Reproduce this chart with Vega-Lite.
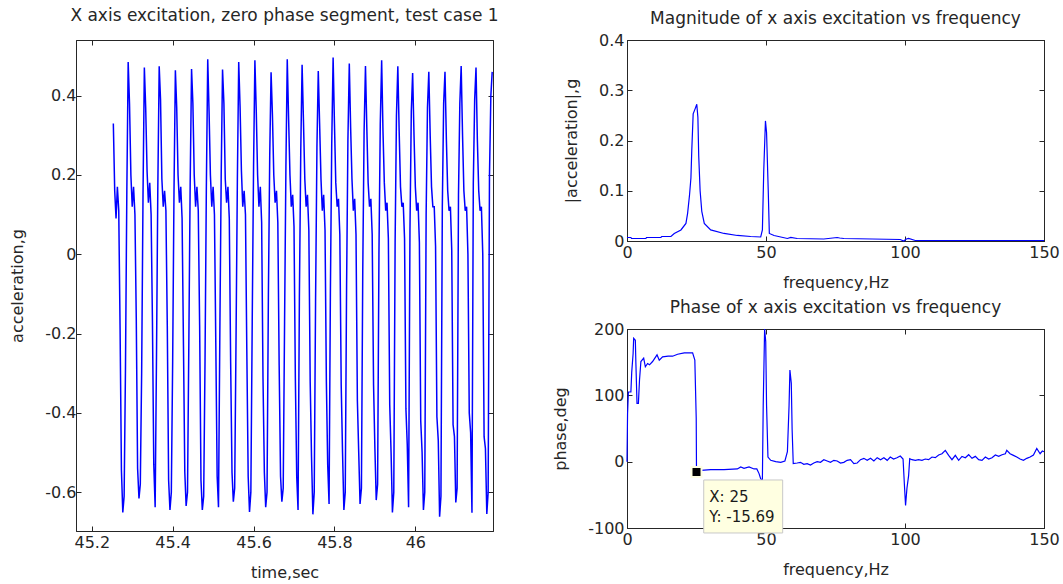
{
"$schema":"https://vega.github.io/schema/vega-lite/v6.json",
"background":"white",
"padding":{"left":9,"top":6,"right":5,"bottom":0},
"bounds":"flush",
"spacing":134,
"config":{
 "view":{"stroke":"#262626","strokeWidth":1},
 "font":"DejaVu Sans",
 "axis":{"domainColor":"#262626","tickColor":"#262626","labelColor":"#262626","titleColor":"#262626","labelFont":"DejaVu Sans","titleFont":"DejaVu Sans","labelFontSize":16,"titleFontSize":16,"titleFontWeight":"normal","grid":false,"tickSize":-5,"labelFlush":false},
 "axisX":{"labelPadding":8,"titlePadding":14},
 "axisY":{"labelPadding":5,"titlePadding":19},
 "title":{"font":"DejaVu Sans","fontSize":17,"fontWeight":"normal","color":"#262626","offset":13}
},
"datasets":{
"sig":[
{"t":45.2533,"a":0.33},{"t":45.2567,"a":0.16},{"t":45.26,"a":0.09},{"t":45.2633,"a":0.17},{"t":45.2667,"a":0.11},{"t":45.27,"a":-0.19},{"t":45.2733,"a":-0.545},{"t":45.2767,"a":-0.651},{"t":45.28,"a":-0.61},{"t":45.2833,"a":-0.29},{"t":45.2867,"a":0.16},{"t":45.29,"a":0.485},
{"t":45.2933,"a":0.38},{"t":45.2967,"a":0.2},{"t":45.3,"a":0.12},{"t":45.3033,"a":0.17},{"t":45.3067,"a":0.1},{"t":45.31,"a":-0.16},{"t":45.3133,"a":-0.54},{"t":45.3167,"a":-0.616},{"t":45.32,"a":-0.58},{"t":45.3233,"a":-0.3},{"t":45.3267,"a":0.15},{"t":45.33,"a":0.471},
{"t":45.3333,"a":0.37},{"t":45.3367,"a":0.21},{"t":45.34,"a":0.13},{"t":45.3433,"a":0.18},{"t":45.3467,"a":0.1},{"t":45.35,"a":-0.17},{"t":45.3533,"a":-0.53},{"t":45.3567,"a":-0.638},{"t":45.36,"a":-0.26},{"t":45.3633,"a":0.17},{"t":45.3667,"a":0.474},
{"t":45.37,"a":0.39},{"t":45.3733,"a":0.19},{"t":45.3767,"a":0.12},{"t":45.38,"a":0.16},{"t":45.3833,"a":0.11},{"t":45.3867,"a":-0.18},{"t":45.39,"a":-0.57},{"t":45.3933,"a":-0.645},{"t":45.3967,"a":-0.6},{"t":45.4,"a":-0.27},{"t":45.4033,"a":0.16},{"t":45.4067,"a":0.464},
{"t":45.41,"a":0.37},{"t":45.4133,"a":0.2},{"t":45.4167,"a":0.13},{"t":45.42,"a":0.17},{"t":45.4233,"a":0.09},{"t":45.4267,"a":-0.23},{"t":45.43,"a":-0.55},{"t":45.4333,"a":-0.635},{"t":45.4367,"a":-0.6},{"t":45.44,"a":-0.22},{"t":45.4433,"a":0.18},{"t":45.4467,"a":0.467},
{"t":45.45,"a":0.38},{"t":45.4533,"a":0.2},{"t":45.4567,"a":0.12},{"t":45.46,"a":0.17},{"t":45.4633,"a":0.11},{"t":45.4667,"a":-0.18},{"t":45.47,"a":-0.57},{"t":45.4733,"a":-0.645},{"t":45.4767,"a":-0.61},{"t":45.48,"a":-0.27},{"t":45.4833,"a":0.17},{"t":45.4867,"a":0.492},
{"t":45.49,"a":0.36},{"t":45.4933,"a":0.2},{"t":45.4967,"a":0.12},{"t":45.5,"a":0.17},{"t":45.5033,"a":0.1},{"t":45.5067,"a":-0.23},{"t":45.51,"a":-0.56},{"t":45.5133,"a":-0.638},{"t":45.5167,"a":-0.19},{"t":45.52,"a":0.2},{"t":45.5233,"a":0.466},
{"t":45.5267,"a":0.38},{"t":45.53,"a":0.19},{"t":45.5333,"a":0.13},{"t":45.5367,"a":0.17},{"t":45.54,"a":0.09},{"t":45.5433,"a":-0.27},{"t":45.5467,"a":-0.55},{"t":45.55,"a":-0.624},{"t":45.5533,"a":-0.59},{"t":45.5567,"a":-0.21},{"t":45.56,"a":0.19},{"t":45.5633,"a":0.485},
{"t":45.5667,"a":0.37},{"t":45.57,"a":0.21},{"t":45.5733,"a":0.12},{"t":45.5767,"a":0.16},{"t":45.58,"a":0.1},{"t":45.5833,"a":-0.24},{"t":45.5867,"a":-0.56},{"t":45.59,"a":-0.65},{"t":45.5933,"a":-0.6},{"t":45.5967,"a":-0.17},{"t":45.6,"a":0.22},{"t":45.6033,"a":0.489},
{"t":45.6067,"a":0.36},{"t":45.61,"a":0.2},{"t":45.6133,"a":0.12},{"t":45.6167,"a":0.17},{"t":45.62,"a":0.08},{"t":45.6233,"a":-0.31},{"t":45.6267,"a":-0.55},{"t":45.63,"a":-0.638},{"t":45.6333,"a":-0.6},{"t":45.6367,"a":-0.1},{"t":45.64,"a":0.25},{"t":45.6433,"a":0.459},
{"t":45.6467,"a":0.35},{"t":45.65,"a":0.2},{"t":45.6533,"a":0.13},{"t":45.6567,"a":0.16},{"t":45.66,"a":0.08},{"t":45.6633,"a":-0.28},{"t":45.6667,"a":-0.56},{"t":45.67,"a":-0.624},{"t":45.6733,"a":-0.59},{"t":45.6767,"a":-0.17},{"t":45.68,"a":0.22},{"t":45.6833,"a":0.492},
{"t":45.6867,"a":0.34},{"t":45.69,"a":0.2},{"t":45.6933,"a":0.12},{"t":45.6967,"a":0.15},{"t":45.7,"a":0.07},{"t":45.7033,"a":-0.31},{"t":45.7067,"a":-0.56},{"t":45.71,"a":-0.645},{"t":45.7133,"a":-0.11},{"t":45.7167,"a":0.26},{"t":45.72,"a":0.478},
{"t":45.7233,"a":0.34},{"t":45.7267,"a":0.19},{"t":45.73,"a":0.12},{"t":45.7333,"a":0.15},{"t":45.7367,"a":0.06},{"t":45.74,"a":-0.32},{"t":45.7433,"a":-0.51},{"t":45.7467,"a":-0.656},{"t":45.75,"a":-0.6},{"t":45.7533,"a":-0.12},{"t":45.7567,"a":0.27},{"t":45.76,"a":0.462},
{"t":45.7633,"a":0.33},{"t":45.7667,"a":0.19},{"t":45.77,"a":0.11},{"t":45.7733,"a":0.15},{"t":45.7767,"a":0.06},{"t":45.78,"a":-0.32},{"t":45.7833,"a":-0.53},{"t":45.7867,"a":-0.63},{"t":45.79,"a":-0.09},{"t":45.7933,"a":0.28},{"t":45.7967,"a":0.496},
{"t":45.8,"a":0.33},{"t":45.8033,"a":0.18},{"t":45.8067,"a":0.12},{"t":45.81,"a":0.14},{"t":45.8133,"a":0.05},{"t":45.8167,"a":-0.33},{"t":45.82,"a":-0.5},{"t":45.8233,"a":-0.645},{"t":45.8267,"a":-0.6},{"t":45.83,"a":-0.08},{"t":45.8333,"a":0.29},{"t":45.8367,"a":0.481},
{"t":45.84,"a":0.32},{"t":45.8433,"a":0.19},{"t":45.8467,"a":0.11},{"t":45.85,"a":0.14},{"t":45.8533,"a":0.05},{"t":45.8567,"a":-0.37},{"t":45.86,"a":-0.5},{"t":45.8633,"a":-0.63},{"t":45.8667,"a":-0.59},{"t":45.87,"a":-0.04},{"t":45.8733,"a":0.31},{"t":45.8767,"a":0.475},
{"t":45.88,"a":0.32},{"t":45.8833,"a":0.18},{"t":45.8867,"a":0.12},{"t":45.89,"a":0.14},{"t":45.8933,"a":0.05},{"t":45.8967,"a":-0.33},{"t":45.9,"a":-0.49},{"t":45.9033,"a":-0.62},{"t":45.9067,"a":-0.58},{"t":45.91,"a":0.0},{"t":45.9133,"a":0.33},{"t":45.9167,"a":0.489},
{"t":45.92,"a":0.31},{"t":45.9233,"a":0.18},{"t":45.9267,"a":0.11},{"t":45.93,"a":0.13},{"t":45.9333,"a":0.04},{"t":45.9367,"a":-0.38},{"t":45.94,"a":-0.5},{"t":45.9433,"a":-0.651},{"t":45.9467,"a":-0.6},{"t":45.95,"a":0.03},{"t":45.9533,"a":0.35},{"t":45.9567,"a":0.474},
{"t":45.96,"a":0.31},{"t":45.9633,"a":0.17},{"t":45.9667,"a":0.12},{"t":45.97,"a":0.13},{"t":45.9733,"a":0.04},{"t":45.9767,"a":-0.39},{"t":45.98,"a":-0.48},{"t":45.9833,"a":-0.638},{"t":45.9867,"a":0.06},{"t":45.99,"a":0.36},{"t":45.9933,"a":0.457},
{"t":45.9967,"a":0.3},{"t":46.0,"a":0.17},{"t":46.0033,"a":0.11},{"t":46.0067,"a":0.13},{"t":46.01,"a":0.03},{"t":46.0133,"a":-0.42},{"t":46.0167,"a":-0.5},{"t":46.02,"a":-0.645},{"t":46.0233,"a":-0.6},{"t":46.0267,"a":0.1},{"t":46.03,"a":0.37},{"t":46.0333,"a":0.46},
{"t":46.0367,"a":0.3},{"t":46.04,"a":0.17},{"t":46.0433,"a":0.12},{"t":46.0467,"a":0.12},{"t":46.05,"a":0.02},{"t":46.0533,"a":-0.41},{"t":46.0567,"a":-0.47},{"t":46.06,"a":-0.662},{"t":46.0633,"a":-0.61},{"t":46.0667,"a":0.12},{"t":46.07,"a":0.38},{"t":46.0733,"a":0.46},
{"t":46.0767,"a":0.29},{"t":46.08,"a":0.16},{"t":46.0833,"a":0.11},{"t":46.0867,"a":0.12},{"t":46.09,"a":0.01},{"t":46.0933,"a":-0.43},{"t":46.0967,"a":-0.46},{"t":46.1,"a":-0.626},{"t":46.1033,"a":-0.59},{"t":46.1067,"a":0.15},{"t":46.11,"a":0.38},{"t":46.1133,"a":0.475},
{"t":46.1167,"a":0.3},{"t":46.12,"a":0.16},{"t":46.1233,"a":0.11},{"t":46.1267,"a":0.12},{"t":46.13,"a":0.0},{"t":46.1333,"a":-0.4},{"t":46.1367,"a":-0.45},{"t":46.14,"a":-0.652},{"t":46.1433,"a":0.18},{"t":46.1467,"a":0.39},{"t":46.15,"a":0.471},
{"t":46.1533,"a":0.29},{"t":46.1567,"a":0.16},{"t":46.16,"a":0.11},{"t":46.1633,"a":0.12},{"t":46.1667,"a":0.0},{"t":46.17,"a":-0.46},{"t":46.1733,"a":-0.49},{"t":46.1767,"a":-0.655},{"t":46.18,"a":-0.6},{"t":46.1833,"a":0.2},{"t":46.1867,"a":0.4},{"t":46.19,"a":0.46}
],
"mag":[
{"f":0,"m":0.007},{"f":1.4,"m":0.007},{"f":1.6,"m":0.005},{"f":6.8,"m":0.005},{"f":7,"m":0.007},{"f":12.2,"m":0.007},{"f":12.5,"m":0.009},{"f":15.8,"m":0.009},{"f":17,"m":0.015},{"f":19.4,"m":0.022},{"f":21.2,"m":0.035},{"f":21.8,"m":0.055},{"f":22.5,"m":0.092},{"f":23,"m":0.126},{"f":23.3,"m":0.18},{"f":23.8,"m":0.253},{"f":24.5,"m":0.263},{"f":25.1,"m":0.272},{"f":25.5,"m":0.246},{"f":25.8,"m":0.169},{"f":26.3,"m":0.1},{"f":26.9,"m":0.059},{"f":27.8,"m":0.035},{"f":30.1,"m":0.022},{"f":34.9,"m":0.015},{"f":39.7,"m":0.011},{"f":44.5,"m":0.009},{"f":48.1,"m":0.008},{"f":48.7,"m":0.022},{"f":49.2,"m":0.142},{"f":49.8,"m":0.239},{"f":50.2,"m":0.216},{"f":50.8,"m":0.102},{"f":51.2,"m":0.015},{"f":52.9,"m":0.011},{"f":57.7,"m":0.005},{"f":58.9,"m":0.007},{"f":61.2,"m":0.005},{"f":70.8,"m":0.004},{"f":75.6,"m":0.007},{"f":76.5,"m":0.006},{"f":78,"m":0.005},{"f":98.3,"m":0.003},{"f":99.5,"m":0.0},{"f":100.5,"m":0.004},{"f":101.3,"m":0.005},{"f":103.7,"m":0.001},{"f":150,"m":0.001}
],
"phase":[
{"f":0,"p":0},{"f":0.2,"p":72},{"f":0.5,"p":105},{"f":1.4,"p":105},{"f":1.7,"p":135},{"f":2.2,"p":163},{"f":2.4,"p":186},{"f":3.0,"p":183},{"f":3.2,"p":148},{"f":3.6,"p":88},{"f":4.1,"p":88},{"f":4.5,"p":123},{"f":5.0,"p":151},{"f":6.0,"p":156},{"f":6.6,"p":143},{"f":7.4,"p":148},{"f":8.1,"p":146},{"f":9.2,"p":151},{"f":10.8,"p":161},{"f":11.6,"p":153},{"f":12.8,"p":158},{"f":14.8,"p":159},{"f":16.4,"p":159},{"f":18.2,"p":162},{"f":20.6,"p":164},{"f":23.6,"p":164},{"f":24.4,"p":153},{"f":24.9,"p":65},{"f":25,"p":-15.69},{"f":26.6,"p":-13},{"f":30.1,"p":-12},{"f":34.9,"p":-12},{"f":39.7,"p":-11},{"f":40.9,"p":-8},{"f":42.1,"p":-10},{"f":43.9,"p":-8},{"f":45.7,"p":-11},{"f":46.7,"p":-11},{"f":47.5,"p":-18},{"f":48.1,"p":-26},{"f":48.7,"p":-28},{"f":49,"p":85},{"f":49.5,"p":200},{"f":49.9,"p":181},{"f":50.2,"p":85},{"f":50.7,"p":7},{"f":51.7,"p":2},{"f":53.5,"p":0},{"f":55.3,"p":-1},{"f":56.8,"p":1},{"f":57.7,"p":15},{"f":58.3,"p":85},{"f":58.6,"p":138},{"f":59.1,"p":118},{"f":59.4,"p":48},{"f":59.8,"p":-3},
{"f":61.2,"p":-2},{"f":62.4,"p":-1},{"f":63.6,"p":-4},{"f":64.8,"p":-3},{"f":66,"p":-5},{"f":67.2,"p":-2},{"f":68.4,"p":0},{"f":69.6,"p":-1},{"f":70.8,"p":3},{"f":72,"p":1},{"f":73.2,"p":-1},{"f":74.4,"p":2},{"f":75.6,"p":1},{"f":76.8,"p":-2},{"f":78,"p":-1},{"f":79.2,"p":2},{"f":80.4,"p":3},{"f":81.6,"p":-3},{"f":82.8,"p":-2},{"f":84,"p":3},{"f":85.2,"p":5},{"f":86.4,"p":2},{"f":87.6,"p":5},{"f":88.8,"p":1},{"f":90,"p":6},{"f":91.2,"p":3},{"f":92.4,"p":6},{"f":93.6,"p":2},{"f":94.7,"p":7},{"f":95.9,"p":4},{"f":97.1,"p":6},{"f":98.3,"p":8.5},{"f":99.3,"p":4},{"f":99.8,"p":-36},{"f":100.2,"p":-66},{"f":100.7,"p":-40},{"f":101.3,"p":-21},{"f":101.7,"p":4.5},
{"f":102.5,"p":3},{"f":103.7,"p":2},{"f":104.9,"p":3},{"f":106.1,"p":2},{"f":107.3,"p":4},{"f":108.5,"p":3},{"f":109.7,"p":7},{"f":110.9,"p":6},{"f":112.1,"p":10},{"f":113.3,"p":12},{"f":114.5,"p":17},{"f":115.7,"p":9.5},{"f":116.9,"p":3},{"f":118.1,"p":9.5},{"f":119.3,"p":2},{"f":120.5,"p":8},{"f":121.7,"p":6},{"f":122.9,"p":10.5},{"f":124.1,"p":5},{"f":125.3,"p":8},{"f":126.5,"p":3},{"f":127.7,"p":2},{"f":128.9,"p":7},{"f":130.1,"p":4},{"f":131.3,"p":6},{"f":132.5,"p":10},{"f":133.7,"p":8},{"f":134.9,"p":10.5},{"f":136.1,"p":12},{"f":136.6,"p":17},{"f":137.8,"p":12},{"f":139,"p":9.5},{"f":140.2,"p":7},{"f":141.4,"p":4},{"f":142.6,"p":2},{"f":143.8,"p":5},{"f":145,"p":7},{"f":146.2,"p":10},{"f":147.4,"p":20},{"f":148.6,"p":12},{"f":149.4,"p":16},{"f":150,"p":15}
],
"tip":[{"f":25,"p":-15.69}]
},
"hconcat":[
{
 "width":417,"height":491,
 "title":{"text":"X axis excitation, zero phase segment, test case 1","offset":14.5},
 "data":{"name":"sig"},
 "layer":[
  {"mark":{"type":"line","color":"#0000FF","strokeWidth":1.5},
   "encoding":{
    "x":{"field":"t","type":"quantitative","scale":{"domain":[45.161,46.192],"nice":false,"zero":false},"axis":{"orient":"bottom","values":[45.2,45.4,45.6,45.8,46],"labelExpr":"''+datum.value","title":"time,sec"}},
    "y":{"field":"a","type":"quantitative","scale":{"domain":[-0.698,0.5404],"nice":false,"zero":false},"axis":{"orient":"left","values":[-0.6,-0.4,-0.2,0,0.2,0.4],"labelExpr":"''+datum.value","title":"acceleration,g"}}}},
  {"mark":{"type":"line","opacity":0},
   "encoding":{
    "x":{"field":"t","type":"quantitative","axis":{"orient":"top","values":[45.2,45.4,45.6,45.8,46],"labels":false,"title":null}},
    "y":{"field":"a","type":"quantitative","axis":{"orient":"right","values":[-0.6,-0.4,-0.2,0,0.2,0.4],"labels":false,"title":null}}}}
 ],
 "resolve":{"axis":{"x":"independent","y":"independent"}}
},
{
 "vconcat":[
  {
   "width":417,"height":201,
   "title":{"text":"Magnitude of x axis excitation vs frequency","offset":4},
   "data":{"name":"mag"},
   "layer":[
    {"mark":{"type":"line","color":"#0000FF","strokeWidth":1.2},
     "encoding":{
      "x":{"field":"f","type":"quantitative","scale":{"domain":[0,150],"nice":false},"axis":{"orient":"bottom","values":[0,50,100,150],"title":"frequency,Hz"}},
      "y":{"field":"m","type":"quantitative","scale":{"domain":[0,0.4],"nice":false},"axis":{"orient":"left","values":[0,0.1,0.2,0.3,0.4],"labelExpr":"''+datum.value","title":"|acceleration|,g","labelPadding":8}}}},
    {"mark":{"type":"line","opacity":0},
     "encoding":{
      "x":{"field":"f","type":"quantitative","axis":{"orient":"top","values":[0,50,100,150],"labels":false,"title":null}},
      "y":{"field":"m","type":"quantitative","axis":{"orient":"right","values":[0,0.1,0.2,0.3,0.4],"labels":false,"title":null}}}}
   ],
   "resolve":{"axis":{"x":"independent","y":"independent"}}
  },
  {
   "width":417,"height":199,
   "title":{"text":"Phase of x axis excitation vs frequency","offset":4},
   "layer":[
    {"data":{"name":"phase"},
     "mark":{"type":"line","color":"#0000FF","strokeWidth":1.2},
     "encoding":{
      "x":{"field":"f","type":"quantitative","scale":{"domain":[0,150],"nice":false},"axis":{"orient":"bottom","values":[0,50,100,150],"title":"frequency,Hz"}},
      "y":{"field":"p","type":"quantitative","scale":{"domain":[-100,200],"nice":false},"axis":{"orient":"left","values":[-100,0,100,200],"labelExpr":"''+datum.value","title":"phase,deg","labelPadding":8}}}},
    {"data":{"name":"phase"},
     "mark":{"type":"line","opacity":0},
     "encoding":{
      "x":{"field":"f","type":"quantitative","axis":{"orient":"top","values":[0,50,100,150],"labels":false,"title":null}},
      "y":{"field":"p","type":"quantitative","axis":{"orient":"right","values":[-100,0,100,200],"labels":false,"title":null}}}},
    {"data":{"name":"tip"},
     "mark":{"type":"point","shape":"square","filled":true,"color":"#000000","size":100,"stroke":"#FFFFE1","strokeWidth":2,"opacity":1},
     "encoding":{
      "x":{"field":"f","type":"quantitative","axis":null},
      "y":{"field":"p","type":"quantitative","axis":null}}},
    {"data":{"name":"tip"},
     "mark":{"type":"rect","fill":"#FFFFE1","stroke":"#C8C8C8","strokeWidth":1},
     "encoding":{
      "x":{"datum":27.6,"type":"quantitative","axis":null},"x2":{"datum":56},
      "y":{"datum":-27.6,"type":"quantitative","axis":null},"y2":{"datum":-107.5}}},
    {"data":{"name":"tip"},
     "mark":{"type":"text","align":"left","baseline":"alphabetic","fontSize":15,"font":"DejaVu Sans","color":"#1a1a1a","lineHeight":20},
     "encoding":{
      "x":{"datum":29.6,"type":"quantitative","axis":null},
      "y":{"datum":-60.8,"type":"quantitative","axis":null},
      "text":{"value":["X: 25","Y: -15.69"]}}}
   ],
   "resolve":{"axis":{"x":"independent","y":"independent"}}
  }
 ],
 "spacing":88,
 "bounds":"flush"
}
]
}
